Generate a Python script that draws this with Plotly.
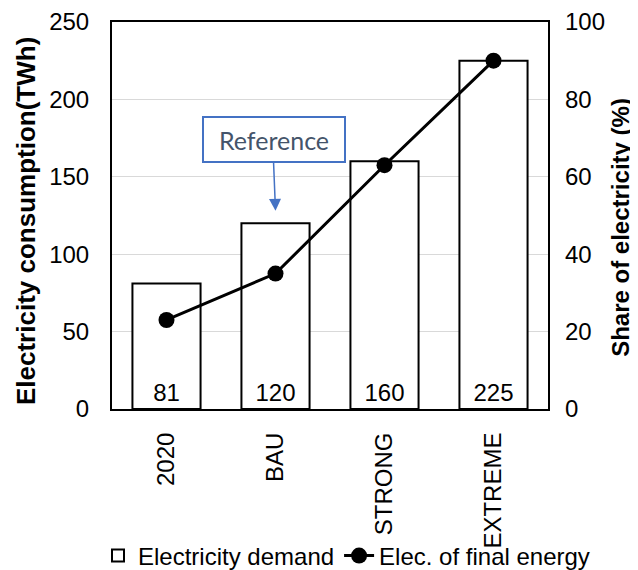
import plotly.graph_objects as go

categories = ["2020", "BAU", "STRONG", "EXTREME"]
demand_twh = [81, 120, 160, 225]
share_pct = [23, 35, 63, 90]
left_ticks = [0, 50, 100, 150, 200, 250]
right_ticks = [0, 20, 40, 60, 80, 100]

FONT = "Liberation Sans, Arial, sans-serif"

fig = go.Figure()
fig.add_trace(go.Bar(
    x=categories, y=demand_twh, name="Electricity demand",
    marker=dict(color="white", line=dict(color="black", width=2)),
    text=[str(v) for v in demand_twh], textposition="inside",
    insidetextanchor="start", textangle=0,
    textfont=dict(size=24, color="black", family=FONT),
))
fig.add_trace(go.Scatter(
    x=categories, y=share_pct, name="Elec. of final energy", yaxis="y2",
    mode="lines+markers",
    line=dict(color="black", width=3),
    marker=dict(color="black", size=16),
))

# axis titles
fig.add_annotation(xref="paper", yref="paper", x=-0.197, y=0.486, textangle=-90,
                   text="<b>Electricity consumption(TWh)</b>", showarrow=False,
                   xanchor="center", yanchor="middle",
                   font=dict(size=26, color="black", family=FONT))
fig.add_annotation(xref="paper", yref="paper", x=1.166, y=0.469, textangle=-90,
                   text="<b>Share of electricity (%)</b>", showarrow=False,
                   xanchor="center", yanchor="middle",
                   font=dict(size=24, color="black", family=FONT))

fig.add_annotation(
    xref="paper", yref="paper", x=0.3716, y=0.758,
    text="Reference", showarrow=False,
    font=dict(size=25, color="#44546A", family="Lato, Open Sans, sans-serif"),
    bordercolor="#4472C4", borderwidth=2, width=138, height=41,
    bgcolor="white",
)
fig.add_annotation(
    x=categories.index("BAU"), y=128, xref="x", yref="y", text="",
    showarrow=True, arrowhead=2, arrowsize=1.6, arrowwidth=1.5,
    arrowcolor="#4472C4", ax=-2, ay=-50,
)

# the page body adds an 8px margin, so the figure is 8px smaller than the window
fig.update_layout(
    width=630, height=562,
    margin=dict(l=104, r=90, t=14, b=161, autoexpand=False),
    paper_bgcolor="white", plot_bgcolor="white",
    font=dict(family=FONT, size=24, color="black"),
    bargap=0.375,
    showlegend=True,
    legend=dict(orientation="h", x=-0.0321, xanchor="left", y=-0.3798, yanchor="middle",
                font=dict(size=24, family=FONT), itemwidth=30, traceorder="normal",
                bgcolor="rgba(0,0,0,0)"),
    xaxis=dict(type="category", tickangle=-90, showline=True, linecolor="black", linewidth=2,
               mirror=True, ticks="", tickfont=dict(size=24), automargin=False,
               ticklabelstandoff=12, ticklabeloverflow="allow"),
    yaxis=dict(range=[0, 250], tickvals=left_ticks, showgrid=True, gridcolor="#d9d9d9",
               gridwidth=1, showline=True, linecolor="black", linewidth=2, mirror=True,
               zeroline=False, ticks="", tickfont=dict(size=24), automargin=False,
               ticklabelstandoff=16, ticklabeloverflow="allow"),
    yaxis2=dict(range=[0, 100], tickvals=right_ticks, overlaying="y", side="right",
                showgrid=False, zeroline=False, ticks="", tickfont=dict(size=24),
                automargin=False, ticklabelstandoff=16, ticklabeloverflow="allow"),
)

fig.write_html("out.html")
